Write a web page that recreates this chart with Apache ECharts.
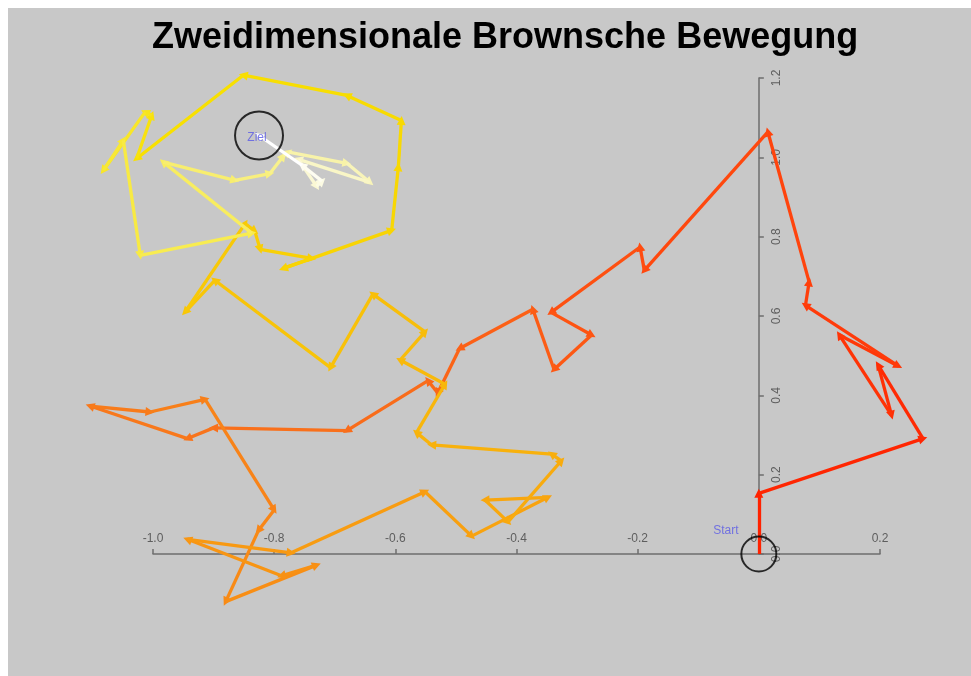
<!DOCTYPE html>
<html><head><meta charset="utf-8">
<script src="https://cdn.jsdelivr.net/npm/echarts@6/dist/echarts.min.js"></script>
<style>html,body{margin:0;padding:0;background:#fff}#main{width:971px;height:676px}</style>
</head><body><div id="main"></div>
<script>
// Brownian path (start at origin, end at "Ziel")
var pathX = [0, 0, 0.271, 0.197, 0.219, 0.133, 0.230, 0.077, 0.083, 0.015,
  -0.189, -0.196, -0.343, -0.276, -0.338, -0.373, -0.494, -0.530, -0.546, -0.680,
  -0.900, -0.943, -1.104, -1.005, -0.914, -0.800, -0.826, -0.880, -0.730, -0.788,
  -0.943, -0.772, -0.551, -0.474, -0.348, -0.452, -0.414, -0.326, -0.342, -0.540,
  -0.565, -0.518, -0.592, -0.551, -0.637, -0.707, -0.898, -0.947, -0.848, -0.832,
  -0.823, -0.738, -0.785, -0.606, -0.595, -0.590, -0.680, -0.851, -1.027, -1.002,
  -1.013, -1.082, -1.049, -1.021, -0.837, -0.983, -0.865, -0.807, -0.785, -0.776,
  -0.680, -0.642, -0.760, -0.730, -0.721, -0.754, -0.825];
var pathY = [0, 0.153, 0.291, 0.476, 0.350, 0.552, 0.474, 0.627, 0.686, 1.064,
  0.715, 0.774, 0.609, 0.552, 0.465, 0.617, 0.518, 0.406, 0.437, 0.311,
  0.318, 0.291, 0.373, 0.358, 0.390, 0.111, 0.059, -0.120, -0.028, -0.055,
  0.037, 0.003, 0.157, 0.045, 0.143, 0.136, 0.081, 0.235, 0.252, 0.275,
  0.306, 0.428, 0.489, 0.560, 0.655, 0.470, 0.690, 0.610, 0.833, 0.814,
  0.768, 0.745, 0.720, 0.816, 0.976, 1.093, 1.156, 1.207, 0.997, 1.106,
  1.114, 0.967, 1.043, 0.753, 0.809, 0.988, 0.942, 0.959, 1.003, 1.013,
  0.985, 0.937, 0.995, 0.927, 0.940, 0.980, 1.055];
var titleText = 'Zweidimensionale Brownsche Bewegung';
var startText = 'Start';
var endText = 'Ziel';

var xMin = -1, xMax = 0.2, yMin = 0, yMax = 1.2, step = 0.2;

// heat-like colours along the path (segment index -> colour)
var colorStops = [[0, '#ff2200'], [10, '#ff4c10'], [20, '#f8741c'], [32, '#f8a010'],
  [45, '#f8c408'], [57, '#f8e000'], [63, '#f8ec50'], [70, '#f8f4b8'], [75, '#ffffff']];

function rgb(h) { return [1, 3, 5].map(function (i) { return parseInt(h.substr(i, 2), 16); }); }
function segColor(k) {
  for (var i = 1; i < colorStops.length; i++) {
    if (k <= colorStops[i][0]) {
      var a = colorStops[i - 1], b = colorStops[i];
      var t = (k - a[0]) / (b[0] - a[0]);
      var ca = rgb(a[1]), cb = rgb(b[1]);
      return 'rgb(' + ca.map(function (v, j) { return Math.round(v + (cb[j] - v) * t); }).join(',') + ')';
    }
  }
  return colorStops[colorStops.length - 1][1];
}

var segs = [];
for (var k = 0; k < pathX.length - 1; k++) {
  segs.push({
    coords: [[pathX[k], pathY[k]], [pathX[k + 1], pathY[k + 1]]],
    lineStyle: { color: segColor(k) }
  });
}
var last = pathX.length - 1;

var gridLeft = 153, gridRight = 91;
var gridWidth = 971 - gridLeft - gridRight;
// move the y axis (line, ticks and labels) to x = 0
var yAxisShift = -gridWidth * (0 - xMin) / (xMax - xMin);

var axisGray = '#6e6e6e';
var chart = echarts.init(document.getElementById('main'));
chart.setOption({
  backgroundColor: '#ffffff',
  animation: false,
  title: {
    text: titleText, left: 147, top: 15,
    textStyle: { fontFamily: 'Liberation Sans', fontWeight: 'bold', fontSize: 36, color: '#000' }
  },
  graphic: [{
    type: 'rect', left: 8, top: 8, z: -10, silent: true,
    shape: { width: 963, height: 668 }, style: { fill: '#c8c8c8' }
  }],
  grid: { left: gridLeft, right: gridRight, top: 78, bottom: 122 },
  xAxis: {
    type: 'value', min: xMin, max: xMax, interval: step,
    axisLine: { onZero: true, lineStyle: { color: axisGray, width: 1.5 } },
    axisTick: { inside: true, length: 5, lineStyle: { color: axisGray, width: 1.5 } },
    axisLabel: {
      inside: true, margin: 9, color: '#5e5e5e', fontFamily: 'Liberation Sans', fontSize: 12,
      formatter: function (v) { return v.toFixed(1); }
    },
    splitLine: { show: false }
  },
  yAxis: {
    type: 'value', min: yMin, max: yMax, interval: step,
    position: 'left', offset: yAxisShift,
    axisLine: { onZero: false, lineStyle: { color: axisGray, width: 1.5 } },
    axisTick: { inside: true, length: 5, lineStyle: { color: axisGray, width: 1.5 } },
    axisLabel: {
      inside: true, margin: 12, rotate: 90, color: '#5e5e5e', fontFamily: 'Liberation Sans', fontSize: 12,
      formatter: function (v) { return v.toFixed(1); }
    },
    splitLine: { show: false }
  },
  series: [
    {
      type: 'lines', coordinateSystem: 'cartesian2d', polyline: false, clip: false,
      symbol: ['none', 'triangle'], symbolSize: 9,
      lineStyle: { width: 3.3, opacity: 1 },
      data: segs, z: 3
    },
    {
      type: 'scatter', clip: false, symbol: 'circle', z: 4,
      itemStyle: { color: 'transparent', borderColor: '#000', borderWidth: 2 },
      label: { show: true, position: 'inside', color: '#5a5ae6', fontFamily: 'Liberation Sans', fontSize: 12 },
      data: [
        { value: [pathX[0], pathY[0]], symbolSize: 35,
          label: { formatter: startText, offset: [-33, -23] } },
        { value: [pathX[last], pathY[last]], symbolSize: 48,
          label: { formatter: endText, offset: [-2, 2] } }
      ]
    }
  ]
});
</script>
</body></html>
